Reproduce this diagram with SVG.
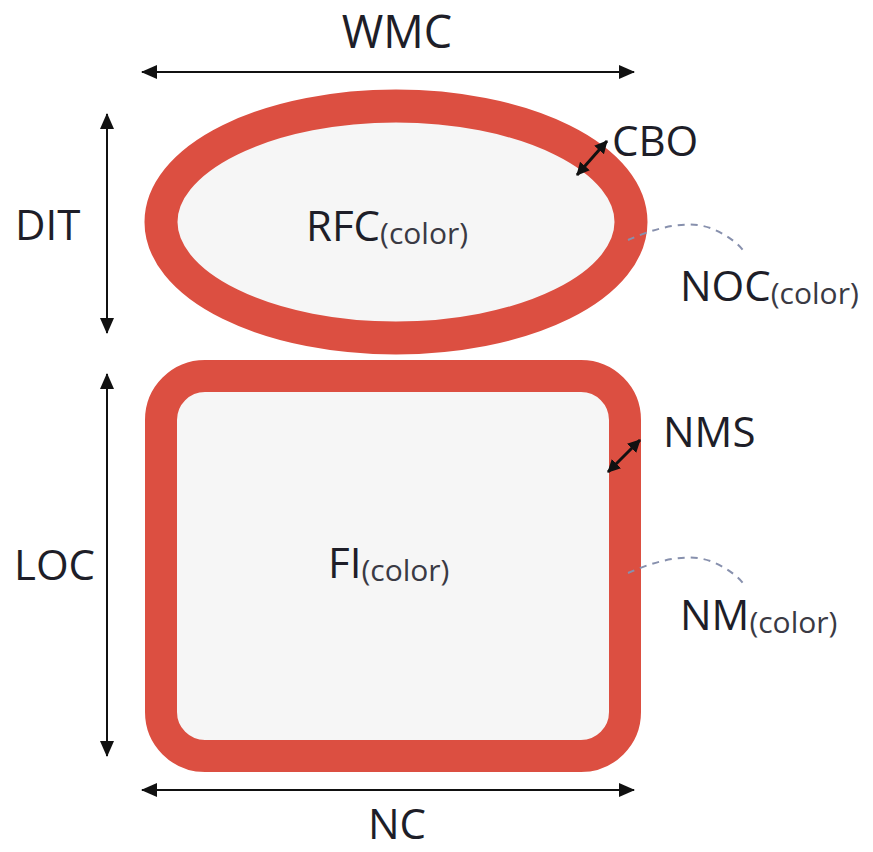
<svg xmlns="http://www.w3.org/2000/svg" width="873" height="852" viewBox="0 0 873 852">
  <defs>
    <marker id="ah" viewBox="0 0 16 14" refX="15" refY="7" markerWidth="16" markerHeight="14" markerUnits="userSpaceOnUse" orient="auto-start-reverse">
      <path d="M0,0 L16,7 L0,14 Z" fill="#111"/>
    </marker>
    <marker id="ahs" viewBox="0 0 13 13" refX="12" refY="6.5" markerWidth="13" markerHeight="13" markerUnits="userSpaceOnUse" orient="auto-start-reverse">
      <path d="M0,0 L13,6.5 L0,13 Z" fill="#111"/>
    </marker>
    <style>
      .lbl { font-family: "Open Sans", "Liberation Sans", sans-serif; font-size: 42px; fill: #1e1e28; }
      .sub { font-size: 30px; fill: #3a3a44; }
      .shape { stroke: #dc4f41; fill: #f6f6f6; }
      .dim { stroke: #111; stroke-width: 2; fill: none; marker-start: url(#ah); marker-end: url(#ah); }
      .thk { stroke: #111; stroke-width: 3; fill: none; marker-start: url(#ahs); marker-end: url(#ahs); }
      .lead { stroke: #8790ad; stroke-width: 2; fill: none; stroke-dasharray: 7 6; }
    </style>
  </defs>
  <rect width="873" height="852" fill="#ffffff"/>

  <g id="class-ellipse">
    <ellipse class="shape" cx="396" cy="222" rx="235" ry="116" stroke-width="33"/>
    <text class="lbl" x="306" y="241">RFC<tspan class="sub" dy="3">(color)</tspan></text>
  </g>

  <g id="file-rect">
    <rect class="shape" x="161" y="376" width="464" height="380" rx="44" ry="44" stroke-width="32"/>
    <text class="lbl" x="328" y="578">FI<tspan class="sub" dy="3">(color)</tspan></text>
  </g>

  <g id="connectors">
    <line class="dim" x1="142" y1="72" x2="634" y2="72"/>
    <line class="dim" x1="107" y1="114" x2="107" y2="333"/>
    <line class="dim" x1="107" y1="374" x2="107" y2="756"/>
    <line class="dim" x1="142" y1="790" x2="634" y2="790"/>
    <line class="thk" x1="577" y1="175" x2="607" y2="141"/>
    <line class="thk" x1="608" y1="472" x2="640" y2="440"/>
    <path class="lead" d="M628,240 C655,228 690,218 715,230 C730,237 740,245 745,253"/>
    <path class="lead" d="M628,573 C655,561 690,551 715,563 C730,570 740,578 745,586"/>
  </g>

  <g id="labels">
    <text class="lbl" x="397" y="48" text-anchor="middle" style="font-size:45px">WMC</text>
    <text class="lbl" x="15" y="240">DIT</text>
    <text class="lbl" x="14" y="580">LOC</text>
    <text class="lbl" x="397" y="839" text-anchor="middle">NC</text>
    <text class="lbl" x="612" y="156">CBO</text>
    <text class="lbl" x="680" y="301">NOC<tspan class="sub" dy="3">(color)</tspan></text>
    <text class="lbl" x="663" y="447">NMS</text>
    <text class="lbl" x="680" y="630">NM<tspan class="sub" dy="3">(color)</tspan></text>
  </g>
</svg>
